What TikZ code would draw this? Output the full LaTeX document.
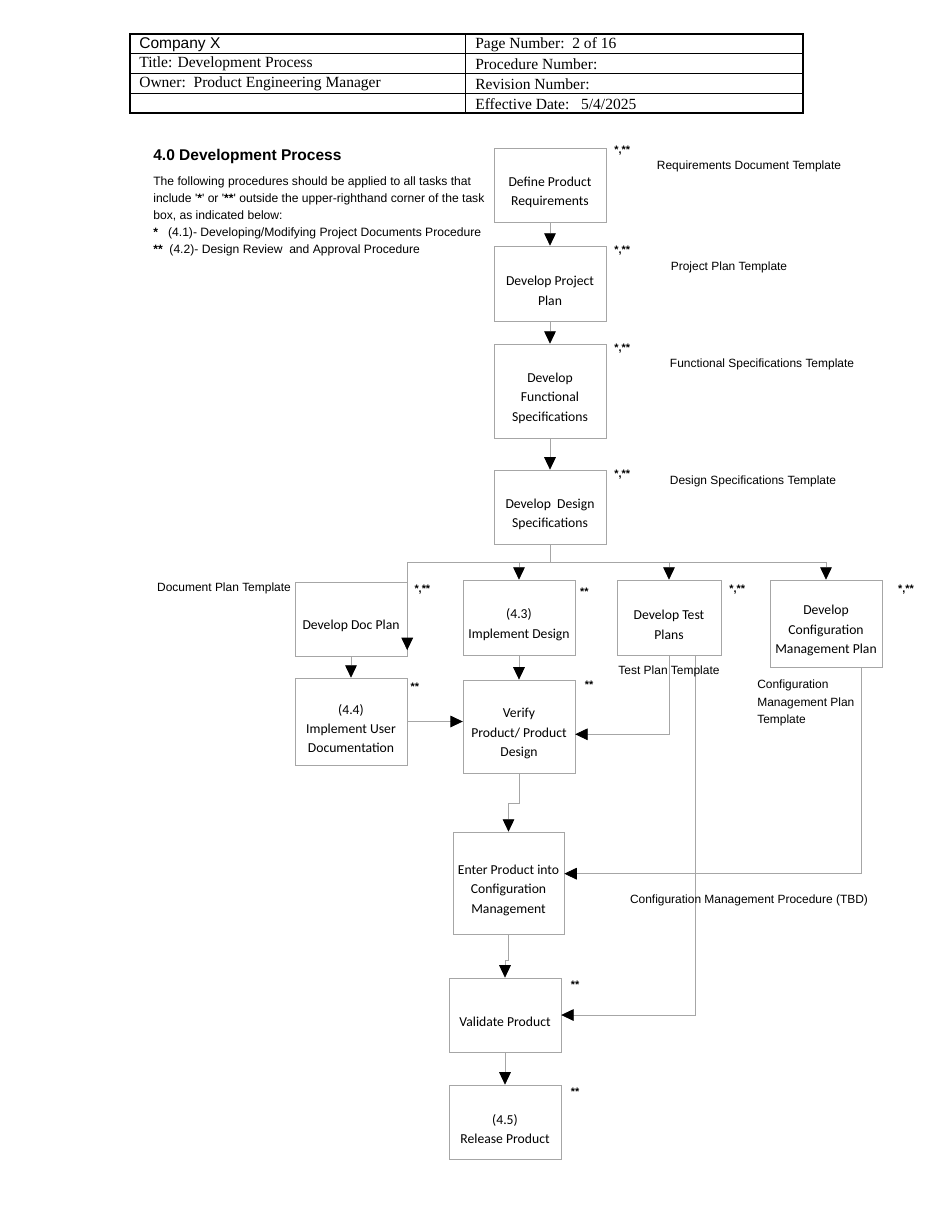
\documentclass[tikz,border=0pt]{standalone}
\usepackage{fontspec}
\setmainfont{Liberation Sans}
\newfontfamily\docserif{Liberation Serif}
\newfontfamily\boxfont{Carlito}
\usetikzlibrary{arrows.meta}

\newcommand\toppad{\rule{0pt}{15.5pt}}
\tikzstyle{task}=[draw=black!35, fill=white, minimum width=72pt, align=center,
  inner sep=2pt, font=\boxfont\fontsize{8.8}{12.5}\selectfont]
\tikzstyle{stars}=[font=\bfseries\fontsize{7}{8}\selectfont, inner sep=0pt, anchor=north west]
\tikzstyle{tmpl}=[font=\fontsize{7.7}{11}\selectfont, inner sep=0pt]
\tikzstyle{cell}=[font=\docserif\fontsize{10}{12}\selectfont, inner sep=0pt, anchor=west]
\tikzstyle{wire}=[draw=black!35, line width=0.5pt]
\tikzstyle{flow}=[wire, -{Triangle[black, width=7.5pt, length=8pt]}]

\begin{document}
\begin{tikzpicture}[x=0.644pt, y=-0.644pt]
\useasboundingbox (0,0) rectangle (950,1230);
%
% header table
\draw[line width=1.3pt] (130,34) rectangle (803,113);
\foreach \y in {53,73,93}
  \draw[line width=0.6pt] (130,\y) -- (803,\y);
\draw[line width=0.6pt] (465,34) -- (465,113);
\node[cell, font=\fontsize{10}{12}\selectfont] (company) at (139,44.5) {Company X};
\node[cell] (title) at (139,64) {Title: Development Process};
\node[cell] (owner) at (139,84) {Owner:\ \ Product Engineering Manager};
\node[cell] (pagenum) at (475,44.5) {Page Number:\ \ 2 of 16};
\node[cell] (procnum) at (475,64) {Procedure Number:};
\node[cell] (revnum) at (475,84) {Revision Number:};
\node[cell] (effdate) at (475,104) {Effective Date:\ \ \ 5/4/2025};
%
% heading and notes
\node[inner sep=0pt, anchor=base west, font=\bfseries\fontsize{10}{12}\selectfont]
  (heading) at (153,160.5) {4.0 Development Process};
\node[inner sep=0pt, anchor=north west, align=left, font=\fontsize{7.8}{11}\selectfont]
  (notes) at (153,176) {The following procedures should be applied to all tasks that\\
  include \textquotesingle\textbf{*}\textquotesingle{} or \textquotesingle\textbf{**}\textquotesingle{} outside the upper-righthand corner of the task\\
  box, as indicated below:\\
  \textbf{*}\ \ \ (4.1)- Developing/Modifying Project Documents Procedure\\
  \textbf{**}\ \ (4.2)- Design Review\ \ and Approval Procedure};
%
% main column
\draw(550,185) node[task, minimum height=47.7pt](defreq){\toppad Define Product\\Requirements};
\draw(550,283.5) node[task, minimum height=48.3pt](projplan){\toppad Develop Project\\Plan};
\draw(550,391) node[task, minimum height=60.5pt](funcspec){\toppad Develop\\Functional\\Specifications};
\draw(550,507) node[task, minimum height=47.7pt](designspec){\toppad Develop\ \ Design\\Specifications};
\draw[flow] (defreq) -- (projplan);
\draw[flow] (projplan) -- (funcspec);
\draw[flow] (funcspec) -- (designspec);
%
% branches
\draw(351,619) node[task, minimum height=47.7pt](docplan){\toppad Develop Doc Plan};
\draw(519,617.5) node[task, minimum height=48.3pt](implement){\toppad (4.3)\\Implement Design};
\draw(669,617.5) node[task, minimum width=67pt, minimum height=48.3pt](testplan){\toppad Develop Test\\Plans};
\draw(826,623.5) node[task, minimum height=56pt](cfgplan){\toppad Develop\\Configuration\\Management Plan};
\draw[wire] (designspec.south) -- ++(0,18) coordinate (split);
\draw[flow] (split) -| (implement.north);
\draw[flow] (split) -| (testplan.north);
\draw[flow] (split) -| (cfgplan.north);
\draw[flow] (split) -| ([yshift=4pt]docplan.south east);
%
\draw(351,721.5) node[task, minimum height=56pt](userdoc){\toppad (4.4)\\Implement User\\Documentation};
\draw(519,726.5) node[task, minimum height=60pt](verify){\toppad Verify\\Product/ Product\\Design};
\draw[flow] (docplan) -- (userdoc);
\draw[flow] (implement) -- (verify);
\draw[flow] (userdoc.east) -- (userdoc.east -| verify.west);
\draw[flow] (testplan.south) |- ([yshift=-5pt]verify.east);
%
\draw(508.5,883) node[task, minimum width=71.5pt, minimum height=65.7pt](enter)
  {\toppad Enter Product into\\Configuration\\Management};
\draw[flow] (verify.south) -- ++(0,30) -| (enter.north);
\draw[flow] ([xshift=23pt]cfgplan.south) |- ([yshift=6pt]enter.east);
%
\draw(505,1015) node[task, minimum height=47.7pt](validate){\toppad Validate Product};
\draw(505,1122) node[task, minimum height=47.7pt](release){\toppad (4.5)\\Release Product};
\draw[flow] (enter.south) -- ++(0,26) -| (validate.north);
\draw[flow] ([xshift=17pt]testplan.south) |- (validate.east);
\draw[flow] (validate) -- (release);
%
% procedure marks
\node[stars] (mdefreq) at ([xshift=5pt, yshift=1pt] defreq.north east) {*,**};
\node[stars] (mprojplan) at ([xshift=5pt] projplan.north east) {*,**};
\node[stars] (mfuncspec) at ([xshift=5pt] funcspec.north east) {*,**};
\node[stars] (mdesignspec) at ([xshift=5pt] designspec.north east) {*,**};
\node[stars] (mdocplan) at ([xshift=4.5pt, yshift=-2pt] docplan.north east) {*,**};
\node[stars] (mimplement) at ([xshift=3pt, yshift=-5pt] implement.north east) {**};
\node[stars] (mtestplan) at ([xshift=5pt, yshift=-3pt] testplan.north east) {*,**};
\node[stars] (mcfgplan) at ([xshift=10pt, yshift=-3pt] cfgplan.north east) {*,**};
\node[stars] (muserdoc) at ([xshift=2pt, yshift=-3pt] userdoc.north east) {**};
\node[stars] (mverify) at ([xshift=6pt, yshift=-1pt] verify.north east) {**};
\node[stars] (mvalidate) at ([xshift=6pt, yshift=-2pt] validate.north east) {**};
\node[stars] (mrelease) at ([xshift=6pt, yshift=-2pt] release.north east) {**};
%
% templates
\node[tmpl] (reqtmpl) at (749,166) {Requirements Document Template};
\node[tmpl] (plantmpl) at (729,267) {Project Plan Template};
\node[tmpl] (functmpl) at (762,364) {Functional Specifications Template};
\node[tmpl] (destmpl) at (753,481) {Design Specifications Template};
\node[tmpl] (doctmpl) at (224,588) {Document Plan Template};
\node[tmpl] (testtmpl) at (669,671) {Test Plan Template};
\node[tmpl, anchor=north west, align=left] (cfgtmpl) at (757,680)
  {Configuration\\Management Plan\\Template};
\node[tmpl] (cfgproc) at (749,900) {Configuration Management Procedure (TBD)};
\end{tikzpicture}
\end{document}
